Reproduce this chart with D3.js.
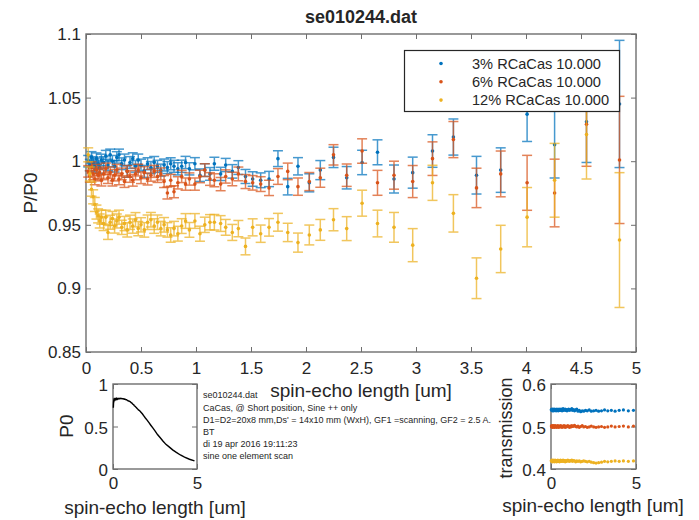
<!DOCTYPE html>
<html>
<head>
<meta charset="utf-8">
<script src="https://cdn.jsdelivr.net/npm/d3@7"></script>
<style>
  body { margin: 0; background: #fff; }
  svg text { font-family: "Liberation Sans", Arial, Helvetica, sans-serif; fill: #262626; }
</style>
</head>
<body>
<div id="chart"></div>
<script>
// spin-echo lengths [um], shared by every scan
const spinEcho = [
  0.02, 0.035, 0.05, 0.065, 0.08, 0.095, 0.11, 0.125, 0.14,
  0.16, 0.18, 0.2, 0.22, 0.24, 0.26, 0.28, 0.3,
  0.325, 0.35, 0.375, 0.4, 0.425, 0.45, 0.475, 0.5,
  0.53, 0.56, 0.59, 0.62, 0.65, 0.68, 0.71, 0.74, 0.77, 0.8,
  0.835, 0.87, 0.905, 0.94, 0.99,
  1.036, 1.08, 1.127, 1.167, 1.224, 1.27, 1.33, 1.385, 1.45, 1.515,
  1.588, 1.664, 1.745, 1.834, 1.927, 2.03, 2.13, 2.25, 2.37, 2.51,
  2.65, 2.8, 2.97, 3.15, 3.34, 3.55, 3.77, 4.01, 4.26, 4.55,
  4.85
];

// P/P0 per sample
const pRatio3 = [
  1.000, 0.997, 1.003, 0.999, 0.996, 1.002, 0.998, 0.995, 1.001,
  0.999, 1.004, 0.997, 1.005, 1.000, 0.996, 1.003, 1.005,
  0.998, 1.001, 0.992, 0.999, 1.002, 0.996, 1.001, 0.997,
  0.992, 0.998, 0.995, 0.999, 0.996, 0.993, 0.997, 0.995, 0.998, 0.996,
  0.994, 0.996, 0.999, 0.994, 0.998,
  0.989, 0.993, 0.990, 0.998, 0.990, 0.997, 0.992, 0.995, 0.988, 0.986,
  0.985, 0.986, 1.002, 0.980, 0.996, 0.983, 0.993, 1.003, 0.987, 0.999,
  1.007, 0.986, 0.991, 1.008, 1.019, 0.989, 0.993, 1.037, 1.013, 1.031,
  1.045
];
const pRatio6 = [
  0.992, 0.988, 0.995, 0.990, 0.986, 0.993, 0.989, 0.991, 0.985,
  0.990, 0.994, 0.987, 0.991, 0.985, 0.989, 0.993, 0.986,
  0.990, 0.984, 0.992, 0.988, 0.985, 0.990, 0.993, 0.987,
  0.991, 0.986, 0.989, 0.992, 0.988, 0.990, 0.984, 0.975, 0.985, 0.976,
  0.983, 0.988, 0.982, 0.986, 0.982,
  0.988, 0.993, 0.986, 0.985, 0.982, 0.988, 0.986, 0.990, 0.984, 0.983,
  0.982, 0.979, 0.988, 0.992, 0.980, 0.984, 0.987, 1.005, 0.989, 1.008,
  0.983, 0.989, 0.984, 1.002, 1.017, 0.979, 0.990, 0.983, 0.975, 1.029,
  1.001
];
const pRatio12 = [
  1.005, 0.990, 0.978, 0.972, 0.966, 0.960, 0.957, 0.953, 0.956,
  0.951, 0.956, 0.944, 0.952, 0.955, 0.949, 0.953, 0.956,
  0.948, 0.951, 0.946, 0.952, 0.949, 0.954, 0.947, 0.950,
  0.946, 0.952, 0.954, 0.949, 0.952, 0.947, 0.950, 0.946, 0.942, 0.947,
  0.943, 0.949, 0.953, 0.946, 0.953,
  0.943, 0.950, 0.952, 0.952, 0.951, 0.948, 0.944, 0.947, 0.933, 0.948,
  0.943, 0.948, 0.952, 0.944, 0.936, 0.942, 0.946, 0.954, 0.947, 0.967,
  0.951, 0.948, 0.934, 0.983, 0.959, 0.908, 0.931, 0.956, 0.985, 1.021,
  0.938
];

// error bar half heights
const err3 = [
  0.0045, 0.0045, 0.0045, 0.0045, 0.0045, 0.0045, 0.0045, 0.0045, 0.0045,
  0.0045, 0.0045, 0.0045, 0.0045, 0.0045, 0.0045, 0.0045, 0.0045,
  0.0046, 0.0046, 0.0046, 0.0046, 0.0046, 0.0046, 0.0046, 0.0046,
  0.0047, 0.0047, 0.0047, 0.0047, 0.0047, 0.0047, 0.0047, 0.0047, 0.0047, 0.0047,
  0.0048, 0.0048, 0.0048, 0.0048, 0.0048,
  0.0049, 0.005, 0.005, 0.0051, 0.0052, 0.0052, 0.0053, 0.0054, 0.0055, 0.0057,
  0.0058, 0.006, 0.0062, 0.0065, 0.0068, 0.0071, 0.0075, 0.008, 0.0088, 0.0096,
  0.0098, 0.011, 0.0122, 0.0128, 0.0142, 0.0148, 0.0175, 0.0215, 0.0262, 0.032,
  0.05
];
const err6 = [
  0.0045, 0.0045, 0.0045, 0.0045, 0.0045, 0.0045, 0.0045, 0.0045, 0.0045,
  0.0045, 0.0045, 0.0045, 0.0045, 0.0045, 0.0045, 0.0045, 0.0045,
  0.0046, 0.0046, 0.0046, 0.0046, 0.0046, 0.0046, 0.0046, 0.0046,
  0.0047, 0.0047, 0.0047, 0.0047, 0.0047, 0.0047, 0.0047, 0.0047, 0.0047, 0.0047,
  0.0048, 0.0048, 0.0048, 0.0048, 0.0048,
  0.0049, 0.005, 0.005, 0.0051, 0.0052, 0.0052, 0.0053, 0.0054, 0.0055, 0.0057,
  0.0058, 0.006, 0.0062, 0.0065, 0.0068, 0.0071, 0.0075, 0.008, 0.0088, 0.0096,
  0.0098, 0.011, 0.0126, 0.0132, 0.0142, 0.0155, 0.018, 0.0216, 0.0266, 0.033,
  0.05
];
const err12 = [
  0.0055, 0.0055, 0.0055, 0.0055, 0.0055, 0.0055, 0.0055, 0.0055, 0.0055,
  0.0055, 0.0055, 0.0055, 0.0055, 0.0055, 0.0055, 0.0055, 0.0055,
  0.0056, 0.0056, 0.0056, 0.0056, 0.0056, 0.0056, 0.0056, 0.0056,
  0.0057, 0.0057, 0.0057, 0.0057, 0.0057, 0.0057, 0.0057, 0.0057, 0.0057, 0.0057,
  0.0058, 0.0058, 0.0058, 0.0058, 0.0058,
  0.0059, 0.006, 0.006, 0.0061, 0.0062, 0.0062, 0.0063, 0.0064, 0.0066, 0.0067,
  0.0068, 0.0069, 0.007, 0.0072, 0.0075, 0.0078, 0.0082, 0.0087, 0.0094, 0.0102,
  0.0105, 0.0117, 0.013, 0.0138, 0.0147, 0.016, 0.0186, 0.0233, 0.029, 0.035,
  0.053
];

// P0 (reference polarisation) for the small left panel
const p0 = [
  0.72, 0.79, 0.81, 0.805, 0.82, 0.815, 0.82, 0.825, 0.815,
  0.82, 0.825, 0.82, 0.83, 0.825, 0.82, 0.828, 0.825,
  0.83, 0.826, 0.83, 0.828, 0.832, 0.828, 0.83, 0.827,
  0.83, 0.826, 0.827, 0.824, 0.826, 0.82, 0.822, 0.818, 0.815, 0.815,
  0.81, 0.808, 0.80, 0.80, 0.795,
  0.79, 0.78, 0.775, 0.765, 0.758, 0.745, 0.735, 0.722, 0.71, 0.695,
  0.685, 0.668, 0.65, 0.625, 0.60, 0.575, 0.548, 0.515, 0.483, 0.445,
  0.405, 0.37, 0.33, 0.29, 0.26, 0.225, 0.195, 0.165, 0.14, 0.115,
  0.095
];

// transmission for the small right panel
const trans3 = [
  0.540, 0.538, 0.541, 0.539, 0.537, 0.540, 0.538, 0.541, 0.539,
  0.537, 0.540, 0.538, 0.541, 0.539, 0.538, 0.540, 0.537,
  0.539, 0.541, 0.538, 0.540, 0.537, 0.539, 0.541, 0.538,
  0.540, 0.538, 0.541, 0.539, 0.537, 0.540, 0.542, 0.538, 0.540, 0.539,
  0.541, 0.538, 0.540, 0.537, 0.539,
  0.541, 0.538, 0.540, 0.539, 0.542, 0.538, 0.540, 0.537, 0.539, 0.541,
  0.536, 0.538, 0.535, 0.537, 0.536, 0.538, 0.537, 0.539, 0.536, 0.537,
  0.538, 0.536, 0.537, 0.539, 0.537, 0.538, 0.536, 0.538, 0.539, 0.537,
  0.538
];
const trans6 = [
  0.501, 0.499, 0.502, 0.500, 0.498, 0.501, 0.499, 0.500, 0.502,
  0.499, 0.501, 0.498, 0.500, 0.502, 0.499, 0.501, 0.500,
  0.498, 0.501, 0.499, 0.502, 0.500, 0.498, 0.501, 0.499,
  0.500, 0.502, 0.499, 0.501, 0.498, 0.500, 0.501, 0.499, 0.502, 0.500,
  0.498, 0.501, 0.499, 0.500, 0.502,
  0.500, 0.498, 0.501, 0.499, 0.502, 0.500, 0.501, 0.503, 0.500, 0.499,
  0.501, 0.498, 0.500, 0.502, 0.499, 0.500, 0.498, 0.499, 0.501, 0.499,
  0.498, 0.499, 0.500, 0.498, 0.499, 0.501, 0.499, 0.500, 0.501, 0.499,
  0.501
];
const trans12 = [
  0.420, 0.418, 0.421, 0.419, 0.417, 0.420, 0.418, 0.421, 0.419,
  0.418, 0.420, 0.417, 0.419, 0.421, 0.418, 0.420, 0.419,
  0.417, 0.420, 0.418, 0.421, 0.419, 0.418, 0.420, 0.417,
  0.419, 0.421, 0.418, 0.420, 0.418, 0.419, 0.421, 0.418, 0.420, 0.419,
  0.417, 0.420, 0.418, 0.419, 0.421,
  0.419, 0.418, 0.420, 0.419, 0.421, 0.418, 0.420, 0.419, 0.417, 0.419,
  0.418, 0.419, 0.417, 0.418, 0.419, 0.418, 0.417, 0.418, 0.416, 0.415,
  0.414, 0.415, 0.416, 0.418, 0.417, 0.418, 0.419, 0.418, 0.419, 0.418,
  0.419
];

const legendLabels = ["3% RCaCas 10.000", "6% RCaCas 10.000", "12% RCaCas 10.000"];
const seriesColors = ["#0072BD", "#D95319", "#EDB120"];
const mainXTicks = [0, 0.5, 1, 1.5, 2, 2.5, 3, 3.5, 4, 4.5, 5];
const mainYTicks = [0.85, 0.9, 0.95, 1, 1.05, 1.1];
const p0YTicks = [0, 0.5, 1];
const transYTicks = [0.4, 0.5, 0.6];
const insetXTicks = [0, 5];
const infoLines = [
  "se010244.dat",
  "CaCas, @ Short position, Sine ++ only",
  "D1=D2=20x8 mm,Ds' = 14x10 mm (WxH), GF1 =scanning, GF2 = 2.5 A.",
  "BT",
  "di 19 apr 2016 19:11:23",
  "sine one element scan"
];

const settings = {
  width: 699,
  height: 520,
  boxColor: "#6e6e6e",
  tickFont: 17,
  labelFont: 19,
  capHalf: 5,
  dotR: 1.8
};

const fmt = d3.format("~g");
let svg;

const initSvgCanvas = function(w, h) {
  svg = d3.select("#chart").append("svg")
    .attr("width", w)
    .attr("height", h);
  svg.append("rect").attr("width", w).attr("height", h).attr("fill", "#fff");
  return svg;
}

// box with inward ticks on four sides, labels left and bottom
const drawFrame = function(x, y, xTicks, yTicks, xPad, yDy) {
  const [x0, x1] = x.range();
  const [y0, y1] = y.range(); // y0 bottom, y1 top
  const g = svg.append("g");

  const bottom = g.append("g").attr("transform", `translate(0,${y0})`)
    .call(d3.axisBottom(x).tickValues(xTicks).tickFormat(fmt).tickSizeInner(-5).tickSizeOuter(0).tickPadding(xPad));
  const top = g.append("g").attr("transform", `translate(0,${y1})`)
    .call(d3.axisTop(x).tickValues(xTicks).tickFormat("").tickSizeInner(-5).tickSizeOuter(0));
  const left = g.append("g").attr("transform", `translate(${x0},0)`)
    .call(d3.axisLeft(y).tickValues(yTicks).tickFormat(fmt).tickSizeInner(-5).tickSizeOuter(0).tickPadding(5));
  const right = g.append("g").attr("transform", `translate(${x1},0)`)
    .call(d3.axisRight(y).tickValues(yTicks).tickFormat("").tickSizeInner(-5).tickSizeOuter(0));

  [bottom, top, left, right].forEach(a => {
    a.select(".domain").remove();
    a.selectAll("line").attr("stroke", settings.boxColor).attr("stroke-width", 1);
    a.selectAll("text").attr("font-size", settings.tickFont)
      .attr("font-family", null).attr("fill", "#262626");
  });
  if (yDy) left.selectAll("text").attr("dy", yDy);

  g.append("rect")
    .attr("x", x0).attr("y", y1)
    .attr("width", x1 - x0).attr("height", y0 - y1)
    .attr("fill", "none")
    .attr("stroke", settings.boxColor)
    .attr("stroke-width", 1.4);
  return g;
}

const renderErrorbars = function(x, y, values, errs, color) {
  const g = svg.append("g");
  const c = settings.capHalf;
  spinEcho.forEach((s, i) => {
    const px = x(s), lo = y(values[i] - errs[i]), hi = y(values[i] + errs[i]);
    const bar = g.append("g").attr("stroke", color).attr("stroke-width", 1.5).attr("opacity", 0.72);
    bar.append("line").attr("x1", px).attr("x2", px).attr("y1", lo).attr("y2", hi);
    bar.append("line").attr("x1", px - c).attr("x2", px + c).attr("y1", lo).attr("y2", lo);
    bar.append("line").attr("x1", px - c).attr("x2", px + c).attr("y1", hi).attr("y2", hi);
  });
  g.selectAll("circle").data(spinEcho).join("circle")
    .attr("cx", d => x(d))
    .attr("cy", (d, i) => y(values[i]))
    .attr("r", settings.dotR)
    .attr("fill", color);
}

const renderLegend = function() {
  const g = svg.append("g");
  g.append("rect")
    .attr("x", 404.5).attr("y", 50.5).attr("width", 215).attr("height", 61)
    .attr("fill", "#fff").attr("stroke", "#262626").attr("stroke-width", 1.2);
  legendLabels.forEach((t, i) => {
    const cy = 63.5 + i * 18.3;
    g.append("circle").attr("cx", 441).attr("cy", cy).attr("r", settings.dotR).attr("fill", seriesColors[i]);
    g.append("text").attr("x", 472).attr("y", cy + 5.2).attr("font-size", 14.6).text(t);
  });
}

const vLabel = function(text, cx, cy, size) {
  svg.append("text")
    .attr("transform", `translate(${cx},${cy}) rotate(-90)`)
    .attr("text-anchor", "middle")
    .attr("font-size", size || settings.labelFont)
    .text(text);
}

const hLabel = function(text, cx, baseline, size, weight) {
  svg.append("text")
    .attr("x", cx).attr("y", baseline)
    .attr("text-anchor", "middle")
    .attr("font-size", size || settings.labelFont)
    .attr("font-weight", weight || "normal")
    .text(text);
}

/****** MAIN PANEL ********/
const drawMain = function() {
  const x = d3.scaleLinear().domain([0, 5]).range([86, 636]);
  const y = d3.scaleLinear().domain([0.85, 1.1]).range([352, 34]);
  drawFrame(x, y, mainXTicks, mainYTicks, 9.5);

  renderErrorbars(x, y, pRatio3, err3, seriesColors[0]);
  renderErrorbars(x, y, pRatio6, err6, seriesColors[1]);
  renderErrorbars(x, y, pRatio12, err12, seriesColors[2]);

  renderLegend();
  hLabel("se010244.dat", 361, 23, 18, "bold");
  hLabel("spin-echo length [um]", 361, 397);
  vLabel("P/P0", 37, 193);
}

/****** P0 INSET ********/
const drawP0 = function() {
  const x = d3.scaleLinear().domain([0, 5]).range([113, 197]);
  const y = d3.scaleLinear().domain([0, 1]).range([469, 384]);
  drawFrame(x, y, insetXTicks, p0YTicks, 8, "0.4em");
  const line = d3.line().x(d => x(d)).y((d, i) => y(p0[i]));
  svg.append("path")
    .attr("d", line(spinEcho))
    .attr("fill", "none")
    .attr("stroke", "#000")
    .attr("stroke-width", 1.4);
  hLabel("spin-echo length [um]", 155, 514);
  vLabel("P0", 73, 426);
}

/****** TRANSMISSION INSET ********/
const drawTrans = function() {
  const x = d3.scaleLinear().domain([0, 5]).range([551, 636]);
  const y = d3.scaleLinear().domain([0.4, 0.6]).range([469, 384]);
  drawFrame(x, y, insetXTicks, transYTicks, 8, "0.4em");
  [trans3, trans6, trans12].forEach((arr, k) => {
    svg.append("g").selectAll("circle").data(spinEcho).join("circle")
      .attr("cx", d => x(d))
      .attr("cy", (d, i) => y(arr[i]))
      .attr("r", 1.6)
      .attr("fill", seriesColors[k]);
  });
  hLabel("spin-echo length [um]", 593, 512);
  vLabel("transmission", 512, 428, 18);
}

const drawInfo = function() {
  const baselines = [398, 410.5, 423, 434.5, 447, 459];
  infoLines.forEach((t, i) => {
    svg.append("text")
      .attr("x", 203).attr("y", baselines[i])
      .attr("font-size", 9)
      .attr("fill", "#333")
      .text(t);
  });
}

initSvgCanvas(settings.width, settings.height);
drawMain();
drawP0();
drawTrans();
drawInfo();
</script>
</body>
</html>
